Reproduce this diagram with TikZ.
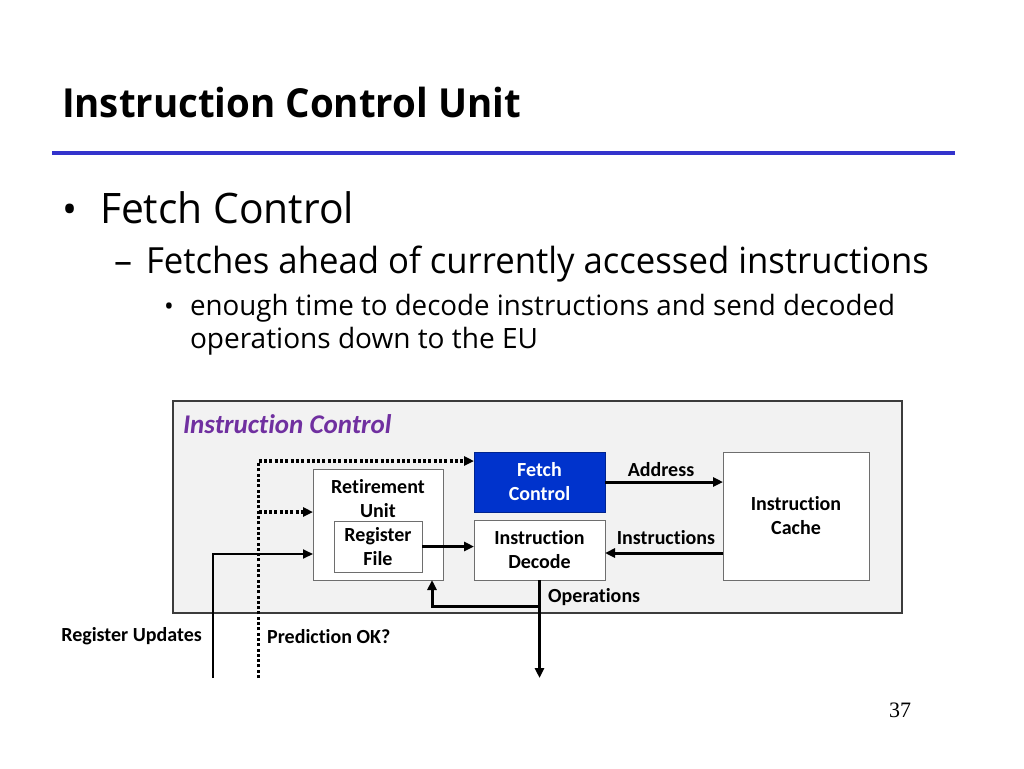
\documentclass[tikz,border=0pt]{standalone}
\usepackage{fontspec}
\usepackage{graphicx}
\setmainfont{Open Sans}
\newfontfamily\calfont[Ligatures=NoCommon]{Carlito}
\newfontfamily\numfont{Liberation Serif}
\usetikzlibrary{arrows.meta}
\definecolor{rulecol}{RGB}{51,51,204}
\definecolor{fetchblue}{RGB}{0,51,204}
\definecolor{icpurple}{RGB}{112,48,160}
\definecolor{panelgray}{RGB}{242,242,242}
\definecolor{paneledge}{RGB}{60,60,60}
\definecolor{boxedge}{RGB}{110,110,110}
\tikzset{
  slidetxt/.style={anchor=base west, inner sep=0pt, outer sep=0pt},
  blk/.style={draw=boxedge, line width=1pt, fill=white, inner sep=0pt, outer sep=0pt,
    font=\calfont\bfseries\fontsize{20}{24}\selectfont, align=center},
  lbl/.style={inner sep=0pt, font=\calfont\bfseries\fontsize{20}{24}\selectfont},
  arr/.style={line width=3pt, -{Triangle[length=10pt,width=9pt]}},
  thinarr/.style={line width=1.8pt, -{Triangle[length=10pt,width=9pt]}},
  dotarr/.style={line width=3.2pt, dash pattern=on 3pt off 2.3pt, -{Triangle[length=10pt,width=9pt]}},
}
\begin{document}
\begin{tikzpicture}[x=1pt,y=-1pt]
\useasboundingbox (0,0) rectangle (1024,768);
\fill[white] (0,0) rectangle (1024,768);
% title
\node[slidetxt] (title) at (62,117) {\resizebox{459pt}{\height}{\bfseries\fontsize{40}{48}\selectfont Instruction Control Unit}};
\draw[rulecol, line width=4pt] (52,153) -- (955,153);
% bullets
\node[slidetxt] (b1) at (62,223) {\fontsize{40}{48}\selectfont •};
\node[slidetxt] (t1) at (100,223) {\resizebox{254pt}{\height}{\fontsize{42}{50}\selectfont Fetch Control}};
\node[slidetxt] (b2) at (114,273) {\fontsize{36}{42}\selectfont –};
\node[slidetxt] (t2) at (146,273) {\resizebox{783pt}{\height}{\fontsize{36}{42}\selectfont Fetches ahead of currently accessed instructions}};
\node[slidetxt] (b3) at (164,315) {\fontsize{26}{30}\selectfont •};
\node[slidetxt] (t3) at (190,315) {\resizebox{705pt}{\height}{\fontsize{28}{32}\selectfont enough time to decode instructions and send decoded}};
\node[slidetxt] (t4) at (190,348) {\resizebox{348pt}{\height}{\fontsize{28}{32}\selectfont operations down to the EU}};
% panel
\node[draw=paneledge, line width=2pt, fill=panelgray, minimum width=729pt, minimum height=212pt, inner sep=0pt] (ic) at (537.5,507) {};
\node[slidetxt, text=icpurple, font=\calfont\bfseries\itshape\fontsize{27}{32}\selectfont] (ictxt) at (183,433) {Instruction Control};
% blocks
\node[blk, fill=fetchblue, draw=fetchblue!70!black, text=white, minimum width=131pt, minimum height=60pt] (fc) at (539.5,482) {Fetch\\Control};
\node[blk, minimum width=130pt, minimum height=111pt] (ret) at (378,524.5) {};
\node[lbl, align=center] (rettxt) at (378,498.5) {Retirement\\Unit};
\node[blk, minimum width=88pt, minimum height=51pt] (rf) at (378,546.5) {Register\\File};
\node[blk, minimum width=131pt, minimum height=60pt] (dec) at (539.5,550) {Instruction\\Decode};
\node[blk, minimum width=146pt, minimum height=128pt] (cache) at (796,516) {Instruction\\Cache};
% connectors
\draw[arr] (fc.east) -- (cache.west |- fc.east);
\node[lbl] (addr) at (661,470) {Address};
\coordinate (cin) at ([yshift=-37pt]cache.west);
\draw[arr] (cin) -- (dec.east |- cin);
\node[lbl] (instr) at (666,538) {Instructions};
\draw[arr] (rf.east) -- (dec.west |- rf.east);
\coordinate (opend) at (539.5,678);
\coordinate (opj) at (539.5,606);
\coordinate (retin) at ([xshift=-11pt]ret.south east);
\draw[arr] (dec.south) -- (opend);
\draw[arr] (opj) -| (retin);
\node[lbl, anchor=west] (ops) at (548,597) {Operations};
\coordinate (ru0) at (213,678);
\coordinate (ruin) at ([yshift=-29.5pt]ret.west);
\draw[thinarr] (ru0) |- (ruin);
\node[lbl, anchor=east] (rutxt) at (202,636) {Register Updates};
\coordinate (p0) at (258.5,678);
\coordinate (pj) at (258.5,512);
\coordinate (fcin) at ([yshift=21pt]fc.west);
\draw[dotarr] (p0) |- (fcin);
\draw[dotarr] (pj) -- (pj -| ret.west);
\node[lbl, anchor=west] (predtxt) at (267,637) {Prediction OK?};
% page number
\node[slidetxt, font=\numfont\fontsize{22}{26}\selectfont] (pg) at (889,717) {37};
\end{tikzpicture}
\end{document}
